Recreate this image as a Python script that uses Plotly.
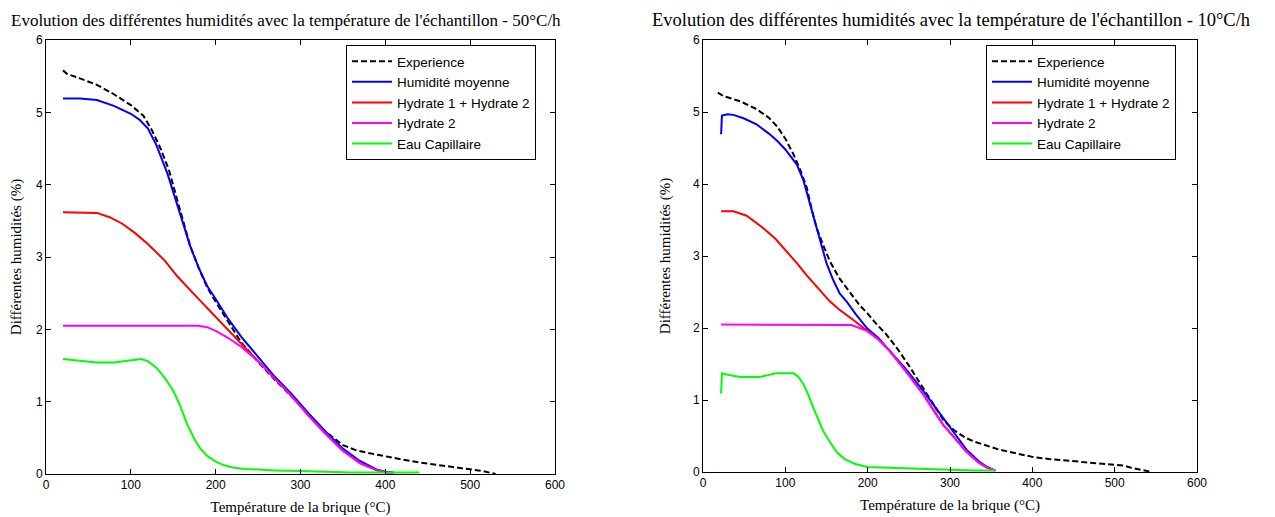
import plotly.graph_objects as go

# ---------------- data: 50°C/h (left) ----------------
exp50_T = [20, 25, 40, 60, 80, 100, 115, 125, 135, 145, 158, 170, 180, 190, 200, 215, 230, 250, 270, 290, 310, 330, 350, 365, 380, 400, 420, 440, 460, 480, 500, 515, 530]
exp50_y = [5.58, 5.53, 5.47, 5.38, 5.25, 5.1, 4.95, 4.75, 4.5, 4.2, 3.65, 3.15, 2.85, 2.58, 2.38, 2.1, 1.82, 1.55, 1.3, 1.07, 0.82, 0.58, 0.4, 0.33, 0.29, 0.24, 0.2, 0.16, 0.13, 0.1, 0.07, 0.04, 0.0]

moy50_T = [20, 40, 60, 80, 100, 110, 120, 130, 143, 158, 170, 180, 190, 200, 215, 230, 250, 270, 290, 310, 330, 350, 370, 390, 400, 410]
moy50_y = [5.19, 5.19, 5.17, 5.09, 4.98, 4.9, 4.78, 4.55, 4.16, 3.6, 3.15, 2.85, 2.6, 2.42, 2.14, 1.9, 1.62, 1.34, 1.1, 0.83, 0.58, 0.35, 0.18, 0.06, 0.03, 0.02]

h12_50_T = [20, 40, 60, 75, 90, 105, 120, 140, 155, 175, 195, 210, 225, 240, 250, 270, 290, 310, 330, 350, 370, 390, 410]
h12_50_y = [3.62, 3.62, 3.61, 3.55, 3.46, 3.33, 3.18, 2.95, 2.73, 2.48, 2.23, 2.05, 1.86, 1.68, 1.56, 1.32, 1.07, 0.8, 0.55, 0.32, 0.15, 0.05, 0.0]

h2_50_T = [20, 100, 180, 190, 200, 215, 230, 250, 270, 290, 310, 330, 350, 370, 390, 410]
h2_50_y = [2.05, 2.05, 2.05, 2.03, 1.98, 1.88, 1.76, 1.56, 1.32, 1.07, 0.8, 0.55, 0.32, 0.15, 0.05, 0.0]

cap50_T = [20, 40, 60, 80, 100, 112, 120, 130, 140, 150, 158, 166, 175, 182, 190, 200, 210, 220, 235, 250, 270, 300, 330, 360, 400, 440]
cap50_y = [1.59, 1.56, 1.54, 1.54, 1.57, 1.59, 1.56, 1.47, 1.33, 1.15, 0.95, 0.7, 0.48, 0.35, 0.25, 0.17, 0.12, 0.09, 0.07, 0.06, 0.05, 0.04, 0.03, 0.02, 0.02, 0.02]

# ---------------- data: 10°C/h (right) ----------------
exp10_T = [18, 25, 45, 65, 80, 90, 100, 110, 118, 126, 132, 138, 146, 154, 165, 178, 190, 200, 211, 222, 235, 250, 267, 280, 292, 305, 318, 330, 345, 360, 380, 400, 420, 440, 460, 480, 500, 510, 520, 535, 545]
exp10_y = [5.27, 5.22, 5.15, 5.04, 4.92, 4.8, 4.63, 4.41, 4.2, 3.95, 3.65, 3.39, 3.15, 2.93, 2.7, 2.5, 2.32, 2.2, 2.05, 1.92, 1.73, 1.48, 1.17, 0.93, 0.72, 0.58, 0.48, 0.42, 0.36, 0.31, 0.26, 0.21, 0.18, 0.16, 0.14, 0.12, 0.1, 0.09, 0.06, 0.03, 0.0]

moy10_T = [22, 23, 30, 37, 50, 65, 80, 90, 100, 114, 122, 128, 134, 142, 150, 158, 166, 175, 185, 199, 213, 227, 245, 268, 280, 292, 305, 320, 335, 345, 355]
moy10_y = [4.69, 4.95, 4.97, 4.96, 4.91, 4.83, 4.7, 4.6, 4.48, 4.27, 4.05, 3.8, 3.53, 3.22, 2.9, 2.67, 2.48, 2.36, 2.2, 2.0, 1.86, 1.68, 1.45, 1.12, 0.93, 0.75, 0.55, 0.31, 0.15, 0.07, 0.02]

h12_10_T = [22, 37, 53, 63, 73, 88, 102, 114, 126, 140, 154, 165, 175, 185, 195, 205, 213, 227, 245, 268, 280, 292, 305, 320, 335, 345, 355]
h12_10_y = [3.62, 3.62, 3.56, 3.48, 3.39, 3.24, 3.06, 2.9, 2.73, 2.55, 2.37, 2.26, 2.18, 2.09, 2.0, 1.92, 1.84, 1.68, 1.42, 1.07, 0.86, 0.65, 0.48, 0.28, 0.13, 0.06, 0.02]

h2_10_T = [22, 100, 172, 180, 190, 199, 213, 227, 245, 268, 280, 292, 305, 320, 335, 345, 355]
h2_10_y = [2.05, 2.05, 2.05, 2.04, 2.0, 1.96, 1.84, 1.68, 1.42, 1.07, 0.86, 0.65, 0.48, 0.28, 0.13, 0.06, 0.02]

cap10_T = [22, 23, 30, 45, 69, 89, 110, 116, 122, 128, 134, 140, 146, 154, 162, 172, 185, 200, 220, 250, 280, 300, 330, 355]
cap10_y = [1.09, 1.37, 1.35, 1.32, 1.32, 1.37, 1.37, 1.32, 1.22, 1.07, 0.89, 0.72, 0.57, 0.42, 0.28, 0.18, 0.11, 0.07, 0.06, 0.05, 0.04, 0.03, 0.02, 0.02]

names = ["Experience", "Humidité moyenne", "Hydrate 1 + Hydrate 2", "Hydrate 2", "Eau Capillaire"]
colors = ["#000000", "#0000FF", "#FF0000", "#FF00FF", "#00FF00"]
dashes = ["6px,3px", "solid", "solid", "solid", "solid"]

titles = ["Evolution des différentes humidités avec la température de l'échantillon - 50°C/h",
          "Evolution des différentes humidités avec la température de l'échantillon - 10°C/h"]
x_ticks = [0, 100, 200, 300, 400, 500, 600]
y_ticks = [0, 1, 2, 3, 4, 5, 6]

left = [(exp50_T, exp50_y), (moy50_T, moy50_y), (h12_50_T, h12_50_y), (h2_50_T, h2_50_y), (cap50_T, cap50_y)]
right = [(exp10_T, exp10_y), (moy10_T, moy10_y), (h12_10_T, h12_10_y), (h2_10_T, h2_10_y), (cap10_T, cap10_y)]

fig = go.Figure()
for k, (series, xa, ya, lg) in enumerate([(left, "x", "y", "legend"), (right, "x2", "y2", "legend2")]):
    for i, (t, v) in enumerate(series):
        fig.add_trace(go.Scatter(x=t, y=v, mode="lines", name=names[i], xaxis=xa, yaxis=ya,
                                 legend=lg,
                                 line=dict(color=colors[i], width=2, dash=dashes[i])))

# page body has an 8px default margin: figure is sized to fit, positions given in screen px
OFF = 8
W, H = 1275 - OFF, 517 - OFF
def fx(p): return (p - OFF) / W
def fy(p): return 1 - (p - OFF) / H

axis_common = dict(showline=True, linecolor="black", linewidth=1, mirror="ticks",
                   ticks="inside", ticklen=5, tickcolor="black", showgrid=False, zeroline=False,
                   automargin=False,
                   tickfont=dict(family="Liberation Sans, Arial", size=12, color="black"))
axis_title_font = dict(family="Liberation Serif, Times New Roman", size=15, color="black")
legend_font = dict(family="Liberation Sans, Arial", size=13.5, color="black")

fig.update_layout(
    template="none",
    width=W, height=H, margin=dict(l=0, r=0, t=0, b=0, autoexpand=False),
    plot_bgcolor="white", paper_bgcolor="white",
    font=dict(family="Liberation Sans, Arial", color="black"),
    xaxis=dict(domain=[fx(46), fx(555)], range=[0, 600], tickvals=x_ticks, anchor="y",
               title=dict(text="Température de la brique (°C)", font=axis_title_font, standoff=10), **axis_common),
    yaxis=dict(domain=[fy(474), fy(40)], range=[0, 6], tickvals=y_ticks, anchor="x",
               title=dict(text="Différentes humidités (%)", font=axis_title_font, standoff=18), **axis_common),
    xaxis2=dict(domain=[fx(703), fx(1197)], range=[0, 600], tickvals=x_ticks, anchor="y2",
                title=dict(text="Température de la brique (°C)", font=axis_title_font, standoff=10), **axis_common),
    yaxis2=dict(domain=[fy(472), fy(40)], range=[0, 6], tickvals=y_ticks, anchor="x2",
                title=dict(text="Différentes humidités (%)", font=axis_title_font, standoff=18), **axis_common),
    legend=dict(x=fx(346), y=fy(45), xanchor="left", yanchor="top", bgcolor="white",
                bordercolor="black", borderwidth=1, itemwidth=40, tracegroupgap=0,
                font=legend_font),
    legend2=dict(x=fx(986), y=fy(45), xanchor="left", yanchor="top", bgcolor="white",
                 bordercolor="black", borderwidth=1, itemwidth=40, tracegroupgap=0,
                 font=legend_font),
    annotations=[
        dict(text=titles[0], x=fx(286), y=fy(20), xref="paper", yref="paper", showarrow=False,
             xanchor="center", yanchor="middle",
             font=dict(family="Liberation Serif, Times New Roman", size=17, color="black")),
        dict(text=titles[1], x=fx(951), y=fy(20), xref="paper", yref="paper", showarrow=False,
             xanchor="center", yanchor="middle",
             font=dict(family="Liberation Serif, Times New Roman", size=18.5, color="black")),
    ],
)

fig.write_html("out.html")
